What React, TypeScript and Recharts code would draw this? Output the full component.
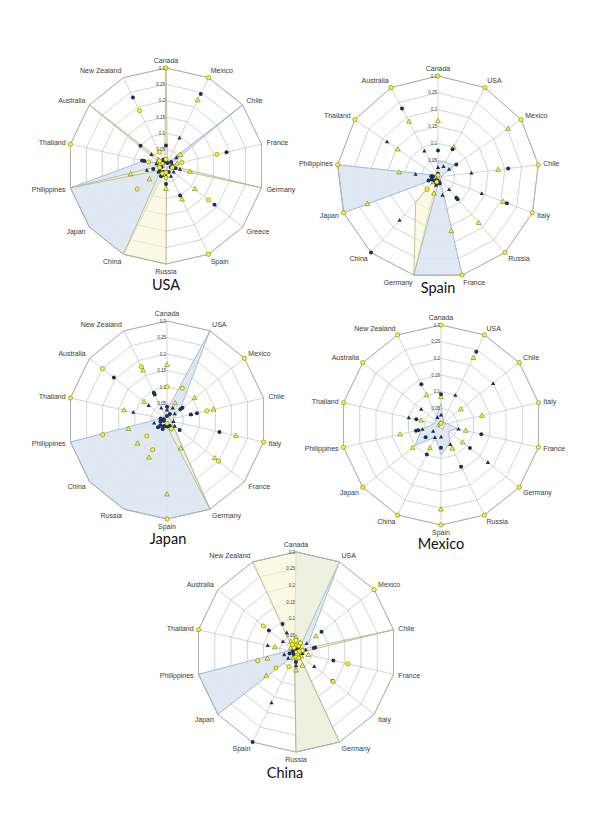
import React from 'react'
import { RadarChart, PolarGrid, PolarAngleAxis, PolarRadiusAxis, Radar } from 'recharts'

// USA
const usaCountries = ['Canada', 'Mexico', 'Chile', 'France', 'Germany', 'Greece', 'Spain', 'Russia', 'China', 'Japan', 'Philippines', 'Thailand', 'Australia', 'New Zealand']
const usaBlue = [0.01, 0.01, 0.3, 0.01, 0.01, 0.005, 0.005, 0.01, 0.3, 0.3, 0.3, 0.07, 0.01, 0.01]
const usaYellow = [0.3, 0.01, 0.015, 0.01, 0.3, 0.01, 0.005, 0.3, 0.3, 0.02, 0.3, 0.01, 0.3, 0.01]
const usaYellowDots = [0.3, 0.3, 0.055, 0.16, 0.02, 0.166, 0.3, 0.036, 0.025, 0.113, 0.02, 0.3, 0.025, 0.188]
const usaYellowDots2 = [0.02, null, null, 0.05, null, null, null, 0.02, null, null, null, 0.055, null, 0.047]
const usaNavyDots = [0.063, 0.245, 0.02, 0.19, 0.03, 0.19, 0.1, 0.055, 0.02, 0.025, 0.015, 0.068, 0.1, 0.233]
const usaNavyDots2 = [0.015, 0.01, null, null, 0.015, null, 0.02, 0.02, 0.035, null, 0.04, 0.075, null, 0.02]
const usaNavyTris = [0.012, 0.095, 0.041, 0.02, 0.044, 0.03, 0.035, 0.03, 0.03, 0.03, 0.06, 0.03, 0.057, 0.02]
const usaYellowTris = [0.015, 0.224, 0.055, 0.035, 0.075, 0.113, 0.113, 0.07, 0.03, 0.065, 0.111, 0.02, 0.03, 0.02]

// Spain
const spainCountries = ['Canada', 'USA', 'Mexico', 'Chile', 'Italy', 'Russia', 'France', 'Germany', 'China', 'Japan', 'Philippines', 'Thailand', 'Australia']
const spainBlue = [0.045, 0.05, 0.06, 0.01, 0.01, 0.01, 0.3, 0.3, 0.005, 0.3, 0.3, 0.01, 0.01]
const spainYellow = [0.005, 0.005, 0.005, 0.005, 0.005, 0.005, 0.01, 0.3, 0.1, 0.005, 0.005, 0.005, 0.005]
const spainYellowDots = [0.3, 0.3, 0.3, 0.3, 0.3, 0.3, 0.3, null, 0.049, 0.3, 0.3, 0.3, 0.3]
const spainYellowDots2 = [0.005, null, null, null, null, null, null, 0.015, null, null, null, null, null]
const spainNavyDots = [0.079, 0.093, 0.066, 0.21, 0.219, 0.082, 0.02, 0.02, 0.3, 0.02, 0.02, null, 0.23]
const spainNavyDots2 = [0.01, null, null, null, null, 0.088, 0.015, 0.01, 0.015, 0.03, 0.015, null, null]
const spainNavyTris = [0.028, 0.035, 0.04, 0.1, 0.139, 0.05, 0.056, 0.025, 0.172, 0.02, 0.067, 0.184, 0.087]
const spainYellowTris = [0.166, 0.1, 0.253, 0.18, 0.207, 0.182, 0.165, 0.05, 0.02, 0.224, 0.116, 0.145, 0.186]

// Japan
const japanCountries = ['Canada', 'USA', 'Mexico', 'Chile', 'Italy', 'France', 'Germany', 'Spain', 'Russia', 'China', 'Philippines', 'Thailand', 'Australia', 'New Zealand']
const japanBlue = [0.03, 0.3, 0.05, 0.02, 0.02, 0.02, 0.3, 0.3, 0.3, 0.3, 0.3, 0.02, 0.01, 0.01]
const japanYellow = [0.045, 0.02, 0.01, 0.01, 0.01, 0.02, 0.3, 0.02, 0.01, 0.01, 0.01, 0.01, 0.01, 0.02]
const japanYellowDots = [0.1, 0.107, 0.3, 0.124, 0.3, 0.2, 0.03, 0.3, 0.1, 0.078, 0.2, 0.3, 0.25, 0.179]
const japanYellowDots2 = [null, null, null, null, null, null, null, 0.01, null, null, null, null, null, null]
const japanNavyDots = [0.04, 0.02, 0.06, 0.093, 0.163, 0.049, 0.02, 0.02, 0.02, 0.025, 0.02, 0.01, 0.206, 0.086]
const japanNavyDots2 = [0.012, null, 0.052, 0.074, null, null, 0.03, 0.015, 0.03, 0.035, 0.01, 0.02, null, 0.092]
const japanNavyTris = [0.03, 0.04, 0.03, 0.075, 0.02, 0.03, 0.02, 0.02, 0.02, 0.03, 0.04, 0.105, 0.071, 0.04]
const japanYellowTris = [0.167, 0.057, 0.107, 0.144, 0.214, 0.185, 0.095, 0.225, 0.126, 0.114, 0.12, 0.134, 0.089, 0.167]

// Mexico
const mexicoCountries = ['Canada', 'USA', 'Chile', 'Italy', 'France', 'Germany', 'Russia', 'Spain', 'China', 'Japan', 'Philippines', 'Thailand', 'Australia', 'New Zealand']
const mexicoBlue = [0.065, 0.015, 0.01, 0.02, 0.05, 0.03, 0.06, 0.09, 0.04, 0.1, 0.06, 0.02, 0.02, 0.03]
const mexicoYellow = [0.015, 0.01, 0.01, 0.015, 0.01, 0.01, 0.015, 0.01, 0.01, 0.01, 0.015, 0.01, 0.01, 0.01]
const mexicoYellowDots = [0.3, 0.3, 0.3, 0.3, 0.3, 0.3, 0.3, 0.3, 0.3, 0.3, 0.3, 0.3, 0.3, 0.3]
const mexicoYellowDots2 = [0.005, null, null, null, null, null, null, null, null, null, null, null, null, null]
const mexicoNavyDots = [0.092, 0.244, null, null, 0.124, 0.111, 0.139, 0.068, 0.098, 0.059, 0.077, null, null, 0.136]
const mexicoNavyDots2 = [null, null, null, null, null, null, null, null, null, null, 0.07, 0.076, null, null]
const mexicoNavyTris = [0.03, 0.099, 0.2, null, 0.054, 0.18, 0.065, 0.036, 0.042, 0.03, 0.057, 0.099, 0.076, 0.025]
const mexicoYellowTris = [0.084, 0.224, 0.076, 0.126, 0.076, 0.083, 0.078, 0.253, 0.077, 0.109, 0.126, 0.061, null, 0.1]

// China
const chinaCountries = ['Canada', 'USA', 'Mexico', 'Chile', 'France', 'Italy', 'Germany', 'Russia', 'Spain', 'Japan', 'Philippines', 'Thailand', 'Australia', 'New Zealand']
const chinaBlue = [0.3, 0.3, 0.05, 0.01, 0.01, 0.01, 0.3, 0.3, 0.01, 0.3, 0.3, 0.02, 0.01, 0.01]
const chinaYellow = [0.3, 0.3, 0.01, 0.3, 0.01, 0.01, 0.3, 0.3, 0.01, 0.01, 0.01, 0.01, 0.01, 0.3]
const chinaYellowDots = [0.02, 0.02, 0.3, 0.02, 0.159, 0.142, 0.01, 0.015, 0.049, 0.077, 0.118, 0.3, 0.125, 0.015]
const chinaYellowDots2 = [0.035, 0.03, null, 0.01, null, null, 0.02, null, null, null, null, null, null, 0.025]
const chinaNavyDots = [0.01, 0.015, 0.098, 0.059, 0.115, 0.14, 0.02, 0.03, 0.3, 0.01, 0.02, 0.01, 0.104, 0.093]
const chinaNavyDots2 = [null, null, null, 0.055, null, null, null, 0.015, null, null, null, null, null, null]
const chinaNavyTris = [0.02, 0.02, 0.041, 0.03, 0.02, 0.07, 0.02, 0.041, 0.169, 0.03, 0.036, 0.087, 0.05, 0.064]
const chinaYellowTris = [0.044, 0.03, 0.076, 0.02, 0.038, 0.02, 0.045, 0.055, 0.02, 0.114, 0.088, 0.065, 0.02, 0.035]

const radiusTicks = [0, 0.05, 0.1, 0.15, 0.2, 0.25, 0.3]

const NAVY = '#1b2f5e'
const YELLOW = '#ffff00'

type Kind = 'yellowDot' | 'navyDot' | 'navyTri' | 'yellowTri'
type Vals = (number | null)[]

function makeDot(kind: Kind, key: string) {
  return (p: any) => {
    const pl = p.payload || {}
    const row = pl.payload && typeof pl.payload === 'object' ? pl.payload : pl
    const v = row[key]
    const x = p.cx
    const y = p.cy
    const k = `${key}-${p.index}`
    if (v == null || !Number.isFinite(x) || !Number.isFinite(y)) return <g key={k} />
    if (kind === 'yellowDot') return <circle key={k} cx={x} cy={y} r={2.1} fill={YELLOW} stroke="#6e6e40" strokeWidth={0.6} />
    if (kind === 'navyDot') return <circle key={k} cx={x} cy={y} r={2} fill={NAVY} stroke="none" />
    if (kind === 'navyTri') return <path key={k} d={`M${x},${y - 2.3}L${x + 2.1},${y + 1.5}L${x - 2.1},${y + 1.5}Z`} fill={NAVY} stroke="none" />
    return <path key={k} d={`M${x},${y - 2.6}L${x + 2.4},${y + 1.7}L${x - 2.4},${y + 1.7}Z`} fill={YELLOW} stroke="#6e6e40" strokeWidth={0.6} />
  }
}

interface PanelProps {
  title: string
  countries: string[]
  blue: number[]
  yellow: number[]
  marks: { kind: Kind; values: Vals }[]
  x: number
  y: number
  r: number
  titleX: number
  titleY: number
}

const W = 330
const H = 250

function Panel({ title, countries, blue, yellow, marks, x, y, r, titleX, titleY }: PanelProps) {
  const data = countries.map((name, i) => {
    const row: Record<string, any> = { name, blue: blue[i], yellow: yellow[i] }
    marks.forEach((m, j) => { row[`m${j}`] = m.values[i] })
    return row
  })
  const cx = W / 2
  const cy = H / 2

  const angleTick = (p: any) => {
    const dx = p.x - cx
    const dy = p.y - cy
    const len = Math.hypot(dx, dy) || 1
    return (
      <text x={p.x} y={p.y + (dy / len) * 2.5} textAnchor={p.textAnchor} dominantBaseline="central"
        fontSize={7} fill="#3a3a3a" fontFamily="'Liberation Sans', Arial, sans-serif">
        {p.payload.value}
      </text>
    )
  }
  const radiusTick = (p: any) => (
    <text x={p.x - 1} y={p.y} textAnchor="end" dominantBaseline="central" fontSize={4.5} fill="#444"
      fontFamily="'Liberation Sans', Arial, sans-serif">
      {String(Number(Number(p.payload.value).toFixed(2)))}
    </text>
  )

  return (
    <>
      <div style={{ position: 'absolute', left: x - cx, top: y - cy, width: W, height: H }}>
        <RadarChart width={W} height={H} data={data} cx={cx} cy={cy} outerRadius={r}
          margin={{ top: 0, right: 0, bottom: 0, left: 0 }}>
          <PolarGrid gridType="polygon" stroke="#c2c2c2" strokeWidth={0.7} />
          <PolarAngleAxis dataKey="name" tick={angleTick} tickLine={false} tickSize={5} axisLine={{ stroke: '#b0b0b0' }} />
          <PolarRadiusAxis angle={90} domain={[0, 0.3]} ticks={radiusTicks as any} tickCount={7}
            axisLine={false} tick={radiusTick} orientation="left" />
          <Radar dataKey="blue" stroke="#98aecb" strokeWidth={0.8} fill="#dde6f2" fillOpacity={0.9} isAnimationActive={false} />
          <Radar dataKey="yellow" stroke="#b4b48a" strokeWidth={0.8} fill="#f6f6d2" fillOpacity={0.6} isAnimationActive={false} />
          {marks.map((m, j) => (
            <Radar key={j} dataKey={`m${j}`} stroke="none" fill="none" dot={makeDot(m.kind, `m${j}`)}
              activeDot={false} isAnimationActive={false} />
          ))}
        </RadarChart>
      </div>
      <div style={{ position: 'absolute', left: titleX - 60, width: 120, top: titleY, textAlign: 'center',
        fontFamily: 'Lato, sans-serif', fontSize: 14.5, lineHeight: 1, color: '#111' }}>
        {title}
      </div>
    </>
  )
}

const marksOf = (yd: Vals, yd2: Vals, nd: Vals, nd2: Vals, nt: Vals, yt: Vals) => [
  { kind: 'yellowTri' as Kind, values: yt },
  { kind: 'navyTri' as Kind, values: nt },
  { kind: 'navyDot' as Kind, values: nd },
  { kind: 'navyDot' as Kind, values: nd2 },
  { kind: 'yellowDot' as Kind, values: yd },
  { kind: 'yellowDot' as Kind, values: yd2 },
]

export default function App() {
  return (
    <div style={{ position: 'absolute', left: 0, top: 0, width: 600, height: 831, background: '#fff', overflow: 'hidden' }}>
      <Panel title="USA" countries={usaCountries} blue={usaBlue} yellow={usaYellow}
        marks={marksOf(usaYellowDots, usaYellowDots2, usaNavyDots, usaNavyDots2, usaNavyTris, usaYellowTris)}
        x={166} y={166} r={98} titleX={166} titleY={278} />
      <Panel title="Spain" countries={spainCountries} blue={spainBlue} yellow={spainYellow}
        marks={marksOf(spainYellowDots, spainYellowDots2, spainNavyDots, spainNavyDots2, spainNavyTris, spainYellowTris)}
        x={438} y={177} r={101} titleX={438} titleY={281} />
      <Panel title="Japan" countries={japanCountries} blue={japanBlue} yellow={japanYellow}
        marks={marksOf(japanYellowDots, japanYellowDots2, japanNavyDots, japanNavyDots2, japanNavyTris, japanYellowTris)}
        x={167} y={420} r={99} titleX={168} titleY={532} />
      <Panel title="Mexico" countries={mexicoCountries} blue={mexicoBlue} yellow={mexicoYellow}
        marks={marksOf(mexicoYellowDots, mexicoYellowDots2, mexicoNavyDots, mexicoNavyDots2, mexicoNavyTris, mexicoYellowTris)}
        x={441} y={425} r={100} titleX={441} titleY={537} />
      <Panel title="China" countries={chinaCountries} blue={chinaBlue} yellow={chinaYellow}
        marks={marksOf(chinaYellowDots, chinaYellowDots2, chinaNavyDots, chinaNavyDots2, chinaNavyTris, chinaYellowTris)}
        x={296} y={652} r={100} titleX={285} titleY={766} />
    </div>
  )
}
